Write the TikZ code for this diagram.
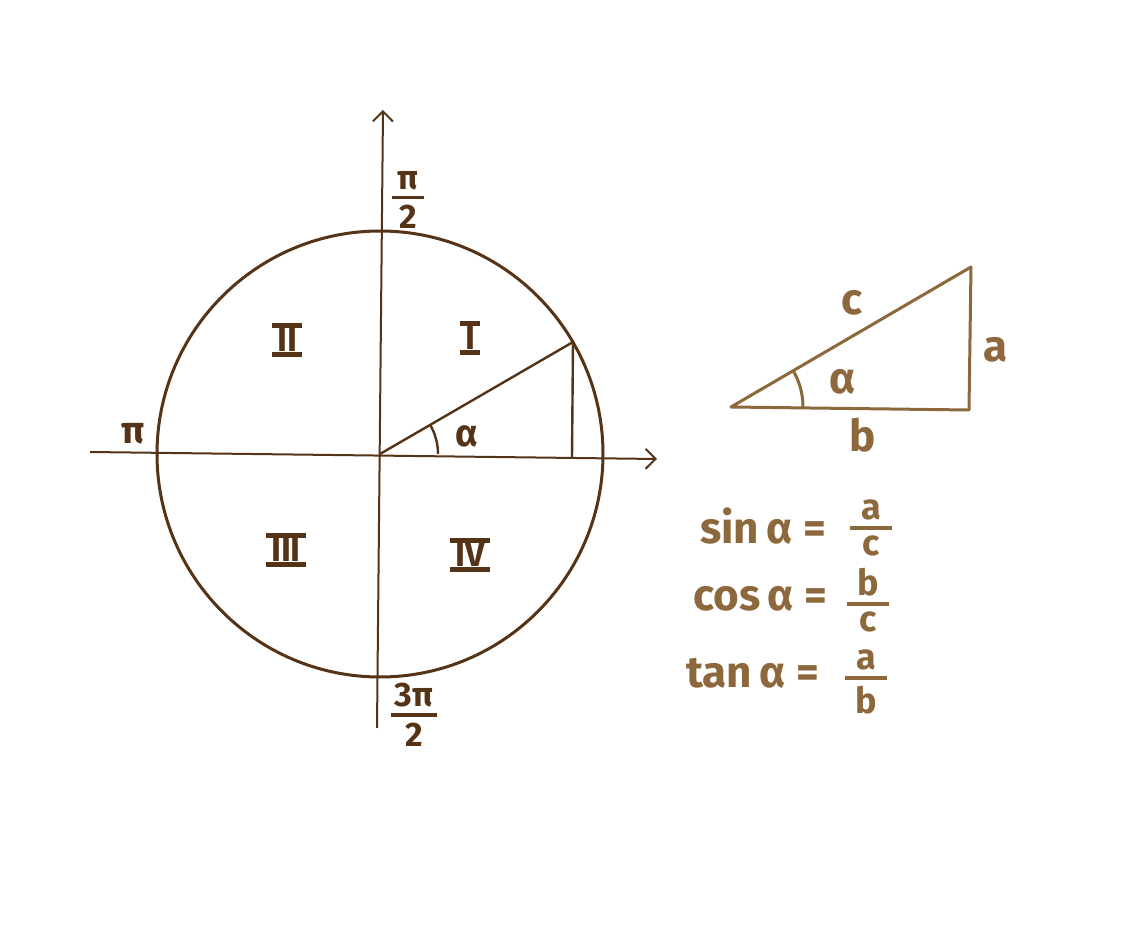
\documentclass[tikz,border=0pt]{standalone}
\usepackage{fontspec}
\newfontfamily\handfont{Fira Sans}
\usetikzlibrary{calc,arrows.meta}
\definecolor{circbrown}{RGB}{84,51,22}
\definecolor{tribrown}{RGB}{140,104,60}
\newcommand{\handfrac}[3][1.15em]{\shortstack{#2\\\rule{#1}{0.11em}\\#3}}
\newcommand{\romanbar}[1]{\vbox{\hrule height 2.2pt\kern0.3pt\hbox{\kern2.5pt#1\kern2.5pt}\kern0.3pt\hrule height 2.2pt}}

\begin{document}
\begin{tikzpicture}[x=0.5pt,y=-0.5pt,
  axis/.style={circbrown,line width=1pt,-{Straight Barb[length=5pt,width=10pt]}},
  circ/.style={circbrown,line width=1.5pt},
  leg/.style={circbrown,line width=1.2pt},
  tri/.style={tribrown,line width=1.5pt,line join=round},
  circlabel/.style={circbrown,font=\handfont\bfseries\fontsize{19}{22}\selectfont},
  quadrant/.style={circbrown,inner sep=0pt,font=\handfont\bfseries\fontsize{17}{20}\selectfont},
  trilabel/.style={tribrown,font=\handfont\bfseries\fontsize{22}{26}\selectfont},
  formula/.style={tribrown,anchor=west,font=\handfont\bfseries\fontsize{22}{26}\selectfont},
  fraction/.style={tribrown,inner sep=0pt,font=\handfont\bfseries\fontsize{18}{20}\selectfont}]
\useasboundingbox (0,0) rectangle (1142,952);
% unit circle
\coordinate (O) at (380,454);
\coordinate (xl) at (90,452);
\coordinate (xr) at (657,459);
\coordinate (yb) at (377,728);
\coordinate (yt) at (383,110);
\coordinate (P) at (573,342);
\coordinate (F) at (572,458);
\draw[axis] (xl) -- (xr);
\draw[axis] (yb) -- (yt);
\draw[circ] (O) circle (223);
\draw[leg] (O) -- (P) -- (F);
\draw[leg] ($(O)+(58,0)$) arc[start angle=0,end angle=-30,radius=58];
\node[circlabel,inner sep=0pt,font=\handfont\bfseries\fontsize{17}{20}\selectfont] (halfpi) at (408,200) {\handfrac[0.95em]{π}{2}};
\node[circlabel] (pi) at (133,434) {π};
\node[circlabel,inner sep=0pt,font=\handfont\bfseries\fontsize{17}{20}\selectfont] (threehalfpi) at (414,715) {\handfrac[1.35em]{3π}{2}};
\node[circlabel] (alpha1) at (467,436) {α};
\node[quadrant] (q1) at (470,338) {\romanbar{I}};
\node[quadrant] (q2) at (287,340) {\romanbar{II}};
\node[quadrant] (q3) at (286,550) {\romanbar{III}};
\node[quadrant] (q4) at (470,555) {\romanbar{IV}};
% right triangle
\coordinate (A) at (731,407);
\coordinate (B) at (969,410);
\coordinate (C) at (971,267);
\draw[tri] (A) -- (B) -- (C) -- cycle;
\draw[tri] ($(A)+(72,0)$) arc[start angle=0,end angle=-30,radius=72];
\node[trilabel] (c) at (852,303) {c};
\node[trilabel] (a) at (996,350) {a};
\node[trilabel] (b) at (863,435) {b};
\node[trilabel] (alpha2) at (843,382) {α};
% formulas
\node[formula] (sinlhs) at (693,526) {sin\,α =};
\node[fraction] (sinfrac) at (871,528) {\handfrac{a}{c}};
\node[formula] (coslhs) at (686,599) {cos\,α =};
\node[fraction] (cosfrac) at (868,600) {\handfrac{b}{c}};
\node[formula] (tanlhs) at (679,673) {tan\,α =};
\node[fraction] (tanfrac) at (866,682) {\handfrac{a}{b}};
\end{tikzpicture}
\end{document}
